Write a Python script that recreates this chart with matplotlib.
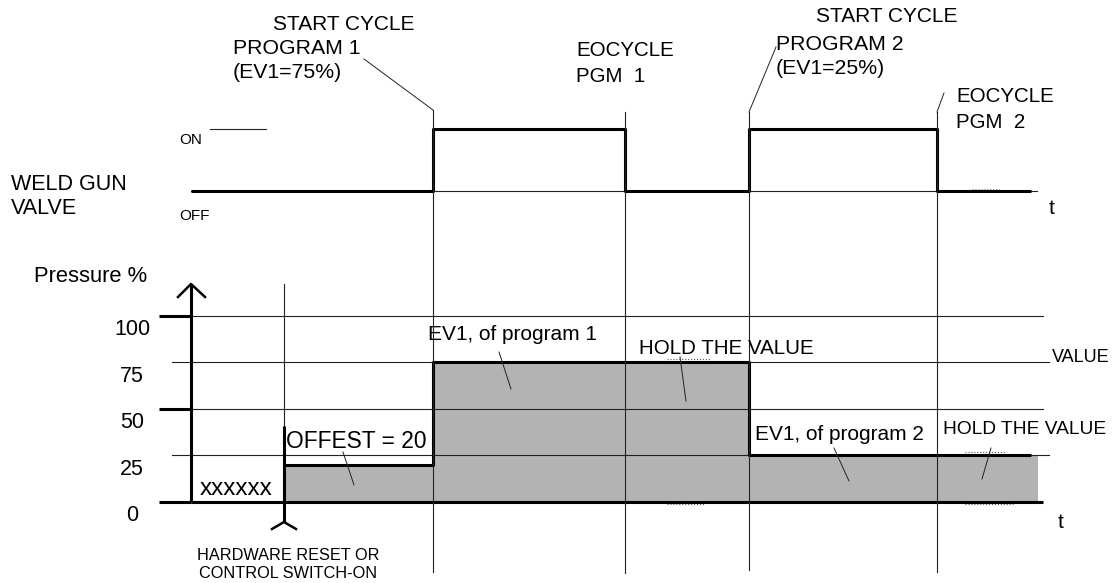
import matplotlib.pyplot as plt
from matplotlib.transforms import offset_copy

plt.rcParams['font.family'] = ['Liberation Sans', 'DejaVu Sans']

# tiempos de los eventos (unidades arbitrarias, misma escala en las dos trazas)
t_axis = 191
t_reset = 284
t_start1, t_eoc1 = 433, 625
t_start2, t_eoc2 = 749, 937
t_end = 1031
t_fill_end = 1038

# electrovalvula de la pinza: 0 = OFF, 1 = ON
valve_t = [t_axis, t_start1, t_eoc1, t_start2, t_eoc2, t_end]
valve_state = [0, 1, 0, 1, 0, 0]

# presion en %
offset = 20
ev1_prog1 = 75
ev1_prog2 = 25
press_t = [t_reset, t_start1, t_start2, t_end]
press_val = [offset, ev1_prog1, ev1_prog2, ev1_prog2]
press_ticks = [0, 25, 50, 75, 100]

W, H = 1118, 583
fig = plt.figure(figsize=(W / 100, H / 100), dpi=100)


def limits(px0, v0, px1, v1):
    # px medidos desde arriba -> limites del eje y
    k = (px0 - px1) / (v1 - v0)
    lo = v0 - (H - px0) / k
    return lo, lo + H / k


ax_v = fig.add_axes([0, 0, 1, 1])
ax_v.set_xlim(0, W)
ax_v.set_ylim(*limits(191, 0, 129, 1))
ax_p = fig.add_axes([0, 0, 1, 1])
ax_p.set_xlim(0, W)
ax_p.set_ylim(*limits(501.7, 0, 315.7, 100))
ov = fig.add_axes([0, 0, 1, 1])
ov.set_xlim(0, W)
ov.set_ylim(H, 0)
for a in (ax_v, ax_p, ov):
    a.axis('off')
    a.patch.set_alpha(0)

thin = dict(color='#222222', lw=0.8)
thick = dict(color='black', lw=2.2, solid_capstyle='butt')

# ---- traza de la valvula ----
ax_v.plot([t_axis, 1037], [0, 0], **thin)
ax_v.plot([210, 266], [1, 1], **thin)
ax_v.step(valve_t, valve_state, where='post', **thick)
ax_v.plot([972, 999], [0.03, 0.03], color='gray', lw=0.8, ls=':')

# ---- traza de la presion ----
ax_p.fill_between(press_t[:-1] + [t_fill_end], press_val[:-1] + [press_val[-1]],
                  0, step='post', color='#b3b3b3', lw=0, zorder=1)
for v in press_ticks:
    if v in (0, 50, 100):
        ax_p.plot([159, t_axis], [v, v], zorder=3, **thick)
    if v == 0:
        ax_p.plot([t_axis, 1043], [v, v], zorder=3, **thick)
    elif v in (50, 100):
        ax_p.plot([t_axis, 1043], [v, v], zorder=2, **thin)
    else:
        ax_p.plot([172, 1049], [v, v], zorder=2, **thin)
    ax_p.text(132, v, str(v), ha='center', va='center', fontsize=15.5,
              transform=offset_copy(ax_p.transData, fig, x=0, y=-14, units='dots'))
ax_p.step(press_t, press_val, where='post', zorder=4, **thick)
ax_p.plot([t_axis, t_axis], [0, 117], zorder=4, **thick)
for x0, x1, v in [(667, 710, 76.5), (667, 704, -1), (965, 1006, 26.5), (965, 1013, -1)]:
    ax_p.plot([x0, x1], [v, v], color='#555555', lw=0.8, ls=':', zorder=4)

# ---- lineas de eventos y marcas (pixeles) ----
for x, y0, y1 in [(t_start1, 110, 572), (t_eoc1, 112, 573), (t_start2, 112, 570), (t_eoc2, 112, 572)]:
    ov.plot([x, x], [y0, y1], zorder=2, **thin)
ov.plot([t_reset, t_reset], [284, 426], **thin)
ov.plot([t_reset, t_reset], [426, 522], **thick)
ov.plot([272, t_reset, 296], [529, 522, 529], color='black', lw=1.8)
ov.plot([178, t_axis, 205], [297, 284, 297], color='black', lw=1.8)

leaders = [((433, 110), (364, 59)), ((749, 112), (776, 47)), ((937, 112), (944, 93)),
           ((343, 452), (354, 485)), ((499, 352), (511, 389)), ((680, 357), (686, 401)),
           ((834, 448), (849, 481)), ((991, 448), (982, 479))]
for (x0, y0), (x1, y1) in leaders:
    ov.plot([x0, x1], [y0, y1], color='#222222', lw=0.7)

# ---- textos ----
labels = [
    ('START CYCLE', 273, 24, 15), ('PROGRAM 1', 233, 48, 15.3), ('(EV1=75%)', 233, 73, 15.3),
    ('EOCYCLE', 576, 50, 14.8), ('PGM  1', 576, 76, 14.8),
    ('START CYCLE', 816, 16, 15), ('PROGRAM 2', 776, 44, 15.3), ('(EV1=25%)', 776, 69, 15.3),
    ('EOCYCLE', 956, 96, 14.8), ('PGM  2', 956, 122, 14.8),
    ('ON', 179, 140, 11), ('OFF', 179, 216, 11),
    ('WELD GUN', 11, 184, 15.5), ('VALVE', 11, 208, 15.5),
    ('t', 1049, 208, 15), ('t', 1058, 523, 15),
    ('Pressure %', 34, 276, 15.8),
    ('xxxxxx', 200, 489, 17.5), ('OFFEST = 20', 286, 442, 16.4),
    ('EV1, of program 1', 428, 335, 15), ('HOLD THE VALUE', 639, 348, 14.8),
    ('VALUE', 1052, 358, 13), ('EV1, of program 2', 755, 434, 15),
    ('HOLD THE VALUE', 943, 429, 13.8),
]
for s, x, y, fs in labels:
    ov.text(x, y, s, ha='left', va='center', fontsize=fs)
ov.text(288, 555, 'HARDWARE RESET OR', ha='center', va='center', fontsize=11.7)
ov.text(288, 574, 'CONTROL SWITCH-ON', ha='center', va='center', fontsize=11.7)

fig.savefig('out.png', dpi=100)
